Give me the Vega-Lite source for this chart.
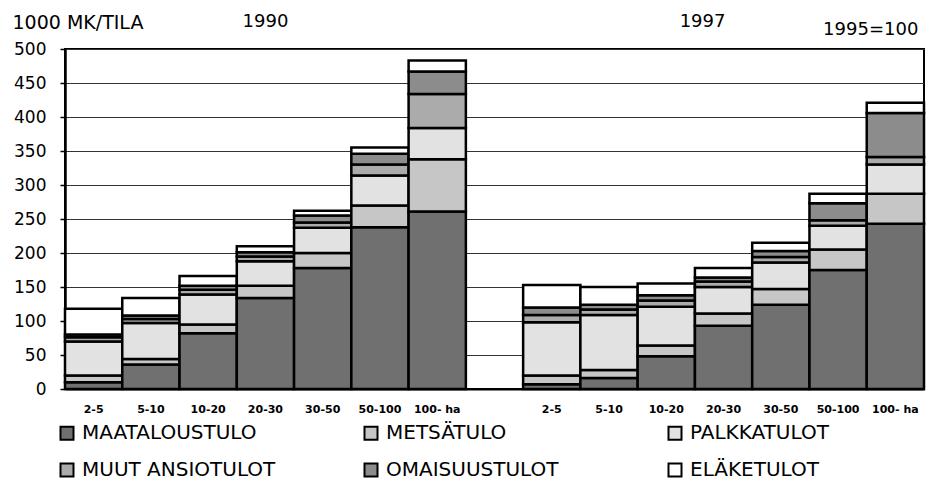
{
  "$schema": "https://vega.github.io/schema/vega-lite/v6.json",
  "width": 859,
  "height": 340,
  "autosize": {"type": "none"},
  "padding": {"left": 65, "top": 49, "right": 12, "bottom": 102},
  "background": "white",
  "config": {"font": "DejaVu Sans", "view": {"stroke": "black", "strokeWidth": 2}},
  "datasets": {
    "series": [
      {"s": "MAATALOUSTULO", "o": 1},
      {"s": "METSÄTULO", "o": 2},
      {"s": "PALKKATULOT", "o": 3},
      {"s": "MUUT ANSIOTULOT", "o": 4},
      {"s": "OMAISUUSTULOT", "o": 5},
      {"s": "ELÄKETULOT", "o": 6}
    ],
    "notes": [
      {"k": "1990|20-30", "t": "1990", "v": 540},
      {"k": "1997|20-30", "t": "1997", "v": 540},
      {"k": "1997|100- ha", "t": "1995=100", "v": 528}
    ],
    "bars": [
      {"k": "1990|2-5", "s": "MAATALOUSTULO", "v": 10},
      {"k": "1990|2-5", "s": "METSÄTULO", "v": 10},
      {"k": "1990|2-5", "s": "PALKKATULOT", "v": 50},
      {"k": "1990|2-5", "s": "MUUT ANSIOTULOT", "v": 6},
      {"k": "1990|2-5", "s": "OMAISUUSTULOT", "v": 4},
      {"k": "1990|2-5", "s": "ELÄKETULOT", "v": 38},
      {"k": "1990|5-10", "s": "MAATALOUSTULO", "v": 36},
      {"k": "1990|5-10", "s": "METSÄTULO", "v": 8},
      {"k": "1990|5-10", "s": "PALKKATULOT", "v": 53},
      {"k": "1990|5-10", "s": "MUUT ANSIOTULOT", "v": 6},
      {"k": "1990|5-10", "s": "OMAISUUSTULOT", "v": 5},
      {"k": "1990|5-10", "s": "ELÄKETULOT", "v": 26},
      {"k": "1990|10-20", "s": "MAATALOUSTULO", "v": 82},
      {"k": "1990|10-20", "s": "METSÄTULO", "v": 13},
      {"k": "1990|10-20", "s": "PALKKATULOT", "v": 44},
      {"k": "1990|10-20", "s": "MUUT ANSIOTULOT", "v": 7},
      {"k": "1990|10-20", "s": "OMAISUUSTULOT", "v": 6},
      {"k": "1990|10-20", "s": "ELÄKETULOT", "v": 14},
      {"k": "1990|20-30", "s": "MAATALOUSTULO", "v": 134},
      {"k": "1990|20-30", "s": "METSÄTULO", "v": 18},
      {"k": "1990|20-30", "s": "PALKKATULOT", "v": 36},
      {"k": "1990|20-30", "s": "MUUT ANSIOTULOT", "v": 7},
      {"k": "1990|20-30", "s": "OMAISUUSTULOT", "v": 6},
      {"k": "1990|20-30", "s": "ELÄKETULOT", "v": 9},
      {"k": "1990|30-50", "s": "MAATALOUSTULO", "v": 178},
      {"k": "1990|30-50", "s": "METSÄTULO", "v": 22},
      {"k": "1990|30-50", "s": "PALKKATULOT", "v": 37},
      {"k": "1990|30-50", "s": "MUUT ANSIOTULOT", "v": 8},
      {"k": "1990|30-50", "s": "OMAISUUSTULOT", "v": 10},
      {"k": "1990|30-50", "s": "ELÄKETULOT", "v": 7},
      {"k": "1990|50-100", "s": "MAATALOUSTULO", "v": 238},
      {"k": "1990|50-100", "s": "METSÄTULO", "v": 32},
      {"k": "1990|50-100", "s": "PALKKATULOT", "v": 44},
      {"k": "1990|50-100", "s": "MUUT ANSIOTULOT", "v": 16},
      {"k": "1990|50-100", "s": "OMAISUUSTULOT", "v": 16},
      {"k": "1990|50-100", "s": "ELÄKETULOT", "v": 9},
      {"k": "1990|100- ha", "s": "MAATALOUSTULO", "v": 261},
      {"k": "1990|100- ha", "s": "METSÄTULO", "v": 77},
      {"k": "1990|100- ha", "s": "PALKKATULOT", "v": 46},
      {"k": "1990|100- ha", "s": "MUUT ANSIOTULOT", "v": 50},
      {"k": "1990|100- ha", "s": "OMAISUUSTULOT", "v": 33},
      {"k": "1990|100- ha", "s": "ELÄKETULOT", "v": 16},
      {"k": "1997|2-5", "s": "MAATALOUSTULO", "v": 7},
      {"k": "1997|2-5", "s": "METSÄTULO", "v": 13},
      {"k": "1997|2-5", "s": "PALKKATULOT", "v": 78},
      {"k": "1997|2-5", "s": "MUUT ANSIOTULOT", "v": 11},
      {"k": "1997|2-5", "s": "OMAISUUSTULOT", "v": 11},
      {"k": "1997|2-5", "s": "ELÄKETULOT", "v": 33},
      {"k": "1997|5-10", "s": "MAATALOUSTULO", "v": 16},
      {"k": "1997|5-10", "s": "METSÄTULO", "v": 12},
      {"k": "1997|5-10", "s": "PALKKATULOT", "v": 81},
      {"k": "1997|5-10", "s": "MUUT ANSIOTULOT", "v": 8},
      {"k": "1997|5-10", "s": "OMAISUUSTULOT", "v": 7},
      {"k": "1997|5-10", "s": "ELÄKETULOT", "v": 26},
      {"k": "1997|10-20", "s": "MAATALOUSTULO", "v": 48},
      {"k": "1997|10-20", "s": "METSÄTULO", "v": 16},
      {"k": "1997|10-20", "s": "PALKKATULOT", "v": 57},
      {"k": "1997|10-20", "s": "MUUT ANSIOTULOT", "v": 9},
      {"k": "1997|10-20", "s": "OMAISUUSTULOT", "v": 8},
      {"k": "1997|10-20", "s": "ELÄKETULOT", "v": 17},
      {"k": "1997|20-30", "s": "MAATALOUSTULO", "v": 93},
      {"k": "1997|20-30", "s": "METSÄTULO", "v": 18},
      {"k": "1997|20-30", "s": "PALKKATULOT", "v": 39},
      {"k": "1997|20-30", "s": "MUUT ANSIOTULOT", "v": 8},
      {"k": "1997|20-30", "s": "OMAISUUSTULOT", "v": 6},
      {"k": "1997|20-30", "s": "ELÄKETULOT", "v": 14},
      {"k": "1997|30-50", "s": "MAATALOUSTULO", "v": 124},
      {"k": "1997|30-50", "s": "METSÄTULO", "v": 23},
      {"k": "1997|30-50", "s": "PALKKATULOT", "v": 39},
      {"k": "1997|30-50", "s": "MUUT ANSIOTULOT", "v": 8},
      {"k": "1997|30-50", "s": "OMAISUUSTULOT", "v": 9},
      {"k": "1997|30-50", "s": "ELÄKETULOT", "v": 12},
      {"k": "1997|50-100", "s": "MAATALOUSTULO", "v": 175},
      {"k": "1997|50-100", "s": "METSÄTULO", "v": 30},
      {"k": "1997|50-100", "s": "PALKKATULOT", "v": 35},
      {"k": "1997|50-100", "s": "MUUT ANSIOTULOT", "v": 8},
      {"k": "1997|50-100", "s": "OMAISUUSTULOT", "v": 25},
      {"k": "1997|50-100", "s": "ELÄKETULOT", "v": 14},
      {"k": "1997|100- ha", "s": "MAATALOUSTULO", "v": 243},
      {"k": "1997|100- ha", "s": "METSÄTULO", "v": 44},
      {"k": "1997|100- ha", "s": "PALKKATULOT", "v": 43},
      {"k": "1997|100- ha", "s": "MUUT ANSIOTULOT", "v": 11},
      {"k": "1997|100- ha", "s": "OMAISUUSTULOT", "v": 65},
      {"k": "1997|100- ha", "s": "ELÄKETULOT", "v": 15}
    ]
  },
  "encoding": {
    "x": {
      "field": "k",
      "type": "nominal",
      "scale": {
        "domain": ["1990|2-5", "1990|5-10", "1990|10-20", "1990|20-30", "1990|30-50", "1990|50-100", "1990|100- ha", "gap", "1997|2-5", "1997|5-10", "1997|10-20", "1997|20-30", "1997|30-50", "1997|50-100", "1997|100- ha"],
        "paddingInner": 0,
        "paddingOuter": 0
      },
      "axis": {
        "title": null,
        "labelExpr": "indexof(datum.value, '|') > 0 ? split(datum.value, '|')[1] : ''",
        "labelAngle": 0,
        "labelOverlap": false,
        "ticks": false,
        "grid": false,
        "domainColor": "black",
        "domainWidth": 2,
        "labelFont": "DejaVu Sans",
        "labelFontSize": 11,
        "labelFontWeight": "bold",
        "labelColor": "black",
        "labelPadding": 14
      }
    },
    "y": {
      "field": "v",
      "type": "quantitative",
      "scale": {"domain": [0, 500], "nice": false},
      "axis": {
        "values": [0, 50, 100, 150, 200, 250, 300, 350, 400, 450, 500],
        "labelOverlap": false,
        "title": "1000 MK/TILA",
        "titleAngle": 0,
        "titleAlign": "left",
        "titleBaseline": "middle",
        "titleX": -53,
        "titleY": -27,
        "titleFont": "DejaVu Sans",
        "titleFontSize": 19,
        "titleFontWeight": "normal",
        "titleColor": "black",
        "labelFont": "DejaVu Sans",
        "labelFontSize": 17,
        "labelColor": "black",
        "tickSize": 5,
        "tickColor": "black",
        "tickWidth": 1.5,
        "labelPadding": 14,
        "domainColor": "black",
        "domainWidth": 2.5,
        "gridColor": "#333333",
        "gridWidth": 1,
        "gridOpacity": 1
      }
    }
  },
  "layer": [
    {
      "data": {"name": "bars"},
      "transform": [
        {"lookup": "s", "from": {"data": {"name": "series"}, "key": "s", "fields": ["o"]}}
      ],
      "mark": {"type": "bar", "stroke": "black", "strokeWidth": 2.5},
      "encoding": {
        "color": {
          "field": "s",
          "type": "nominal",
          "scale": {
            "domain": ["MAATALOUSTULO", "METSÄTULO", "PALKKATULOT", "MUUT ANSIOTULOT", "OMAISUUSTULOT", "ELÄKETULOT"],
            "range": ["#707070", "#c6c6c6", "#e2e2e2", "#ababab", "#8c8c8c", "#ffffff"]
          },
          "legend": {
            "title": null,
            "orient": "none",
            "legendX": -8,
            "legendY": 374,
            "direction": "horizontal",
            "columns": 3,
            "gridAlign": "all",
            "columnPadding": 84,
            "rowPadding": 15,
            "padding": 0,
            "symbolType": "square",
            "symbolSize": 169,
            "symbolStrokeColor": "black",
            "symbolStrokeWidth": 2,
            "symbolOpacity": 1,
            "labelFont": "DejaVu Sans",
            "labelFontSize": 20,
            "labelColor": "black",
            "labelOffset": 5,
            "labelLimit": 400
          }
        },
        "order": {"field": "o", "type": "quantitative"}
      }
    },
    {
      "data": {"name": "notes"},
      "transform": [{"filter": "datum.t == '1990'"}],
      "mark": {"type": "text", "font": "DejaVu Sans", "fontSize": 18, "baseline": "middle", "align": "center", "color": "black"},
      "encoding": {"text": {"field": "t"}}
    },
    {
      "data": {"name": "notes"},
      "transform": [{"filter": "datum.t == '1997'"}],
      "mark": {"type": "text", "font": "DejaVu Sans", "fontSize": 18, "baseline": "middle", "align": "center", "dx": -21, "color": "black"},
      "encoding": {"text": {"field": "t"}}
    },
    {
      "data": {"name": "notes"},
      "transform": [{"filter": "datum.t == '1995=100'"}],
      "mark": {"type": "text", "font": "DejaVu Sans", "fontSize": 18, "baseline": "middle", "align": "right", "dx": 23, "color": "black"},
      "encoding": {"text": {"field": "t"}}
    }
  ]
}
